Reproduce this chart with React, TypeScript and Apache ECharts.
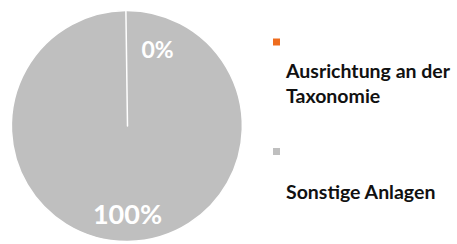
import React, { useEffect, useRef } from "react";
import * as echarts from "echarts";

const categories = ["Ausrichtung an der Taxonomie", "Sonstige Anlagen"];
const descriptionLines = [["Ausrichtung an der", "Taxonomie"], ["Sonstige Anlagen"]];
const values = [0, 100];
const colors = ["#ee6c1e", "#bfbfbf"];

export default function App() {
  const ref = useRef<HTMLDivElement>(null);
  useEffect(() => {
    if (!ref.current) return;
    const chart = echarts.init(ref.current, undefined, { renderer: "svg" });
    const total = values.reduce((a, b) => a + b, 0);
    const pct = values.map((v) => Math.round((v / total) * 100) + "%");
    const font = "Lato, 'Open Sans', sans-serif";
    const legendBase = {
      left: 273,
      padding: 0,
      itemWidth: 7,
      itemHeight: 7,
      icon: "rect",
      selectedMode: false,
      formatter: () => "",
      textStyle: { fontSize: 1 },
      itemStyle: { borderColor: "transparent", borderWidth: 0 },
    };
    // draw larger slices first so the zero slice's white border stays visible on top
    const order = values.map((_, i) => i).sort((a, b) => values[b] - values[a]);
    chart.setOption({
      animation: false,
      legend: [
        { ...legendBase, data: [categories[0]], top: 38.5 },
        { ...legendBase, data: [categories[1]], top: 148 },
      ],
      series: [
        {
          type: "pie",
          center: [127.5, 126],
          radius: 115.5,
          startAngle: 90.8,
          clockwise: true,
          silent: true,
          z: 2,
          label: { show: false },
          labelLine: { show: false },
          itemStyle: { borderColor: "#ffffff", borderWidth: 1.5 },
          data: order.map((i) => ({
            name: categories[i],
            value: values[i],
            itemStyle: { color: colors[i] },
          })),
        },
      ],
      graphic: [
        {
          type: "text",
          z: 100,
          x: 157.5,
          y: 49,
          style: {
            text: pct[0],
            fill: "#ffffff",
            font: `bold 23px ${font}`,
            align: "center",
            verticalAlign: "middle",
          },
        },
        {
          type: "text",
          z: 100,
          x: 127.5,
          y: 213,
          style: {
            text: pct[1],
            fill: "#ffffff",
            font: `bold 27px ${font}`,
            align: "center",
            verticalAlign: "middle",
          },
        },
        {
          type: "text",
          z: 100,
          x: 286,
          y: 82.5,
          style: {
            text: descriptionLines[0].join("\n"),
            fill: "#111111",
            font: `bold 19.5px ${font}`,
            lineHeight: 25,
            align: "left",
            verticalAlign: "middle",
          },
        },
        {
          type: "text",
          z: 100,
          x: 286,
          y: 191,
          style: {
            text: descriptionLines[1].join("\n"),
            fill: "#111111",
            font: `bold 19.5px ${font}`,
            lineHeight: 25,
            align: "left",
            verticalAlign: "middle",
          },
        },
      ],
    });
    return () => chart.dispose();
  }, []);
  return <div ref={ref} style={{ width: 457, height: 244, position: "absolute", left: 0, top: 0 }} />;
}
